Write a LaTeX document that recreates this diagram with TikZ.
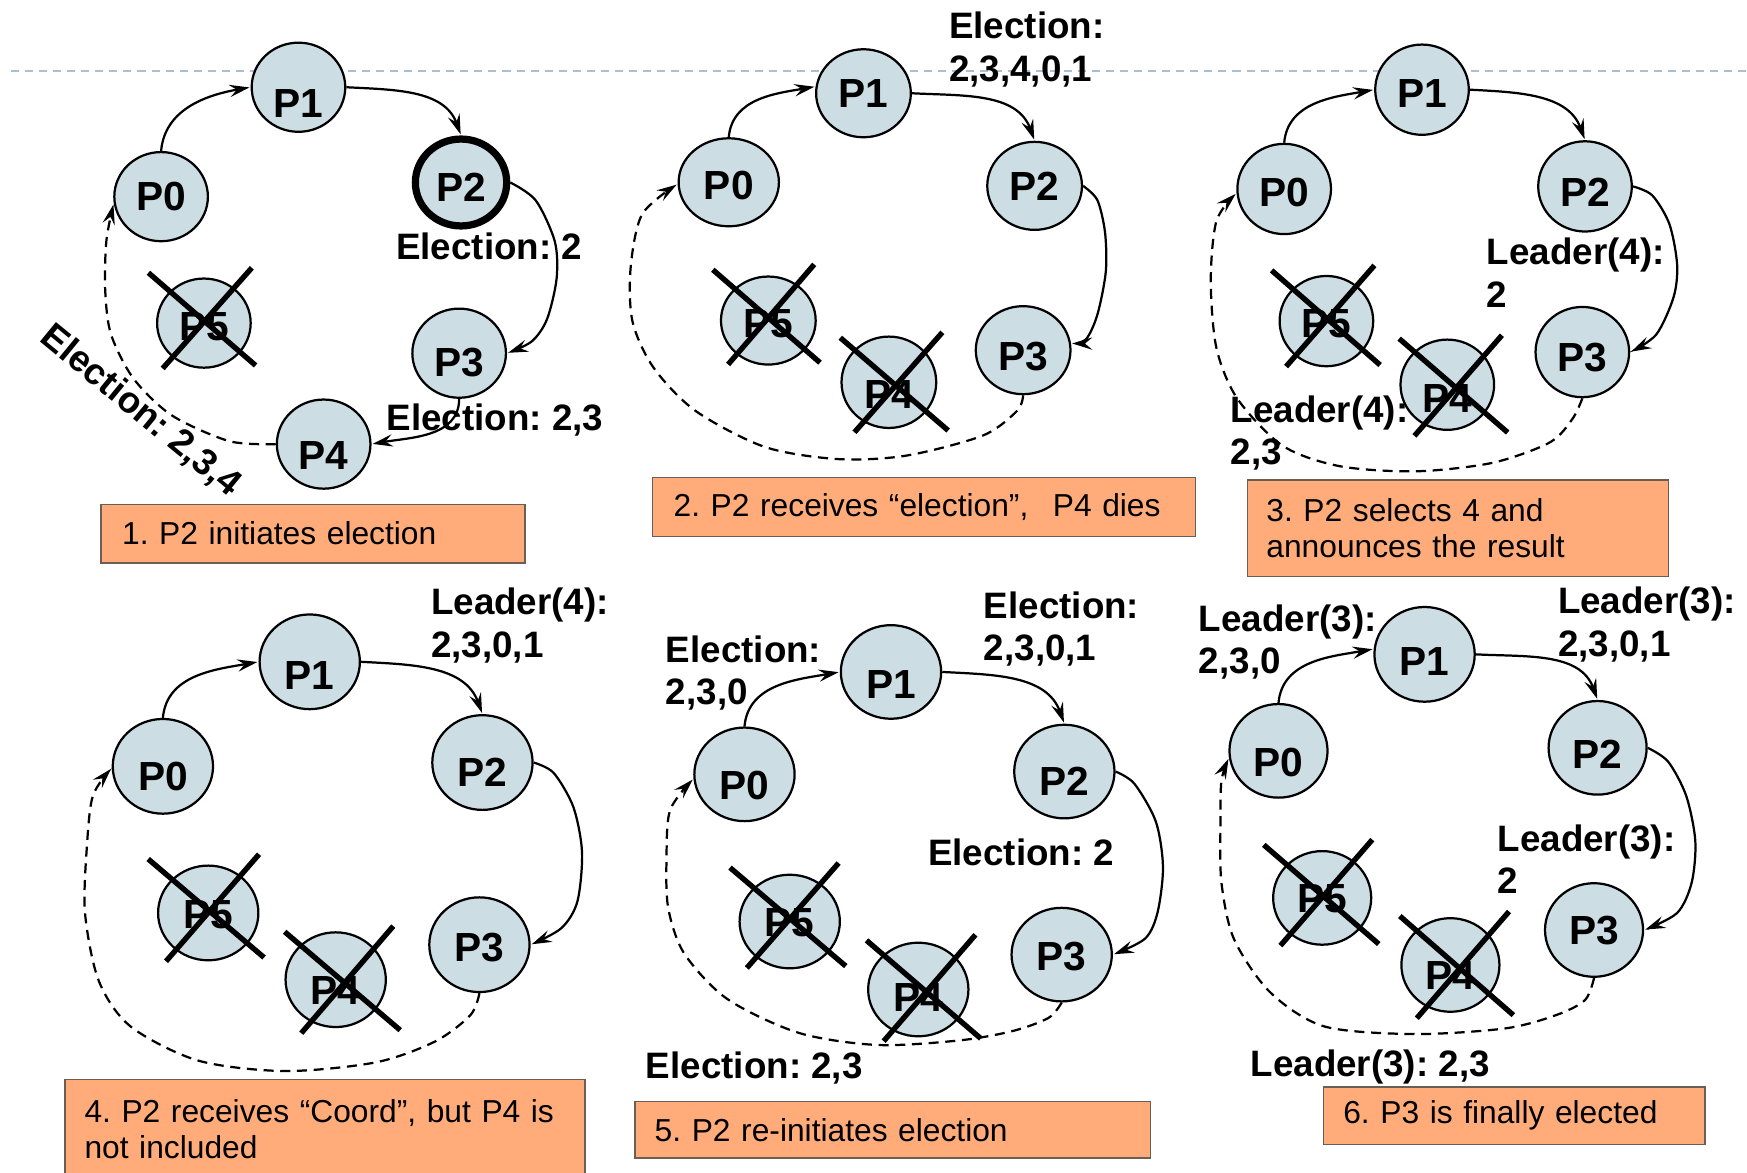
\documentclass[tikz,border=0pt]{standalone}
\usepackage{fontspec}
\setmainfont{Liberation Sans}
\usetikzlibrary{arrows.meta,shapes.geometric}
\definecolor{nodefill}{RGB}{204,222,228}
\definecolor{boxfill}{RGB}{255,172,122}
\definecolor{boxline}{RGB}{105,95,85}
\definecolor{topline}{RGB}{170,192,208}
\newcommand{\lw}[2]{\raisebox{-#1pt}[\height][\depth]{#2}}
\frenchspacing
\begin{document}
\frenchspacing
\begin{tikzpicture}[x=1pt,y=-1pt,
  pnode/.style={ellipse, draw=black, line width=2pt, fill=nodefill, inner sep=0pt,
    font=\bfseries\fontsize{36.5}{38}\selectfont},
  pA/.style={pnode, minimum width=84pt, minimum height=80pt},
  pB/.style={pnode, minimum width=85pt, minimum height=79pt},
  pC/.style={pnode, minimum width=84pt, minimum height=81pt},
  pD/.style={pnode, minimum width=90pt, minimum height=85pt},
  pE/.style={pnode, minimum width=90pt, minimum height=84pt},
  pF/.style={pnode, minimum width=88pt, minimum height=84pt},
  lbl/.style={anchor=base west, inner sep=0pt, font=\bfseries\fontsize{33}{38}\selectfont},
  conn/.style={line width=2pt, -{Stealth[length=18pt,width=11pt,inset=6.5pt]}, shorten >=1pt},
  dconn/.style={conn, dash pattern=on 9pt off 6pt},
  cross/.style={line width=4.8pt},
  topdash/.style={draw=topline, line width=1.8pt, dash pattern=on 7.2pt off 5.4pt},
  box/.style={draw=boxline, line width=1.3pt, fill=boxfill, anchor=north west, align=left,
    font=\fontsize{28.5}{32.5}\selectfont, inner ysep=0pt}
]
\useasboundingbox (0,0) rectangle (1568,1052);
\fill[white] (0,0) rectangle (1568,1052);
\coordinate (tl) at (10,63.5);
\coordinate (tr) at (1568,63.5);
\draw[topdash] (tl) -- (tr);

% ---------- Panel 1 ----------
\node[pA] (A0) at (144.6,176.5) {\lw{0}{P0}};
\node[pA] (A1) at (267.9,78.3) {\lw{15}{P1}};
\node[pA, line width=6.5pt, minimum width=82pt, minimum height=78pt] (A2) at (413.8,163.8) {\lw{4.5}{P2}};
\node[pA] (A3) at (412.1,317) {\lw{8}{P3}};
\node[pA] (A4) at (290.5,398.6) {\lw{10}{P4}};
\node[pA] (A5) at (183,290) {\lw{3}{P5}};
\draw[conn] (A0.north) to[out=85,in=190] (A1.west);
\draw[conn] (A1.east) to[out=-3,in=110] (A2.north);
\draw[conn] plot[smooth] coordinates {(A2.east) (480.8,179.8) (497.9,216.5) (499.6,249.8) (491,286.4) (477.3,306.4) (A3.east)};
\draw[conn] (A3.south) to[out=-90,in=10] (A4.east);
\draw[dconn] plot[smooth] coordinates {(A4.west) (206,396) (154.5,373) (120,340) (99.6,300) (94.4,260) (95.5,216) (A0.188)};
\draw[cross] (133.2,244.8) -- (229.4,328);
\draw[cross] (226,240.4) -- (146,330.7);
\node[lbl] (a1) at (355.4,233.2) {Election: 2};
\node[lbl] (a2) at (346.8,386.4) {Election: 2,3};
\node[lbl, anchor=center, rotate=-39.4] (a3) at (126,369) {Election: 2,3,4};
\node[box, minimum width=380.5pt, minimum height=52.5pt, inner xsep=19pt, text width=342.5pt] (b1) at (90,452) {1. P2 initiates election};

% ---------- Panel 2 ----------
\node[pB, minimum width=90pt] (B0) at (654.1,163.6) {\lw{3}{P0}};
\node[pB] (B1) at (775,83.7) {\lw{0}{P1}};
\node[pB] (B2) at (928.6,166.8) {\lw{0}{P2}};
\node[pB] (B3) at (918.3,314.3) {\lw{5.6}{P3}};
\node[pB, minimum height=82pt] (B4) at (797.8,343.1) {\lw{11}{P4}};
\node[pB] (B5) at (689.6,287.7) {\lw{2.4}{P5}};
\draw[conn] (B0.north) to[out=85,in=190] (B1.172);
\draw[conn] (B1.east) to[out=-3,in=110] (B2.north);
\draw[conn] plot[smooth] coordinates {(B2.east) (984.9,179.6) (991.8,208.5) (992.5,243.7) (985,282.2) (974.6,304.7) (B3.8)};
\draw[dconn] plot[smooth] coordinates {(B3.south) (912.8,368.8) (881.9,391) (813,409) (751.4,412) (686,401) (624.3,368.8) (586.6,330) (567.7,288.6) (566,240.5) (576.3,192.4) (B0.182)};
\draw[cross] (639.8,242.1) -- (736,325.5);
\draw[cross] (730.8,237.3) -- (653.5,327.1);
\draw[cross] (754.2,303.1) -- (851,386.4);
\draw[cross] (845.8,298.3) -- (766.9,388);
\node[lbl] (b2a) at (851.7,34.8) {Election:};
\node[lbl] (b2b) at (851.7,72.8) {2,3,4,0,1};
\node[box, minimum width=487.5pt, minimum height=53pt, inner xsep=19pt, text width=449.5pt] (b2) at (585,428) {2. P2 receives “election”,\hspace{22pt}P4 dies};

% ---------- Panel 3 ----------
\node[pC] (C0) at (1152.6,169.6) {\lw{3}{P0}};
\node[pC] (C1) at (1276.3,80.5) {\lw{3}{P1}};
\node[pC] (C2) at (1422.6,167.3) {\lw{5.3}{P2}};
\node[pC] (C3) at (1420.2,316) {\lw{5}{P3}};
\node[pC] (C4) at (1299,345.3) {\lw{12}{P4}};
\node[pC] (C5) at (1190.5,288.2) {\lw{2.3}{P5}};
\draw[conn] (C0.north) to[out=85,in=190] (C1.west);
\draw[conn] (C1.east) to[out=-3,in=110] (C2.north);
\draw[conn] plot[smooth] coordinates {(C2.east) (1483,175.4) (1498.4,201.3) (1505.3,237.9) (1502,267) (1486.5,300.3) (C3.east)};
\draw[dconn] plot[smooth] coordinates {(C3.south) (1411.3,376) (1390.8,397.2) (1339.5,415.4) (1271.2,423) (1202.9,418.5) (1151.6,400.3) (1110.6,357.9) (1091.8,312.4) (1086.7,251.8) (1091.8,198.3) (C0.185)};
\draw[cross] (1141.3,242.7) -- (1238.7,327.6);
\draw[cross] (1233.6,238.2) -- (1154.3,329);
\draw[cross] (1255.8,303.9) -- (1353.2,388.2);
\draw[cross] (1348,300.9) -- (1269.5,391.2);
\node[lbl] (c1a) at (1334.4,237.8) {Leader(4):};
\node[lbl] (c1b) at (1334.4,275.8) {2};
\node[lbl] (c2a) at (1104.4,378.8) {Leader(4):};
\node[lbl] (c2b) at (1104.4,416.8) {2,3};
\node[box, minimum width=378pt, minimum height=87pt, inner xsep=17pt, text width=344pt] (b3) at (1119,430) {3. P2 selects 4 and\\announces the result};

% ---------- Panel 4 ----------
\node[pD] (D0) at (146.2,687.8) {\lw{9}{P0}};
\node[pD] (D1) at (278,594) {\lw{12}{P1}};
\node[pD] (D2) at (433,684.4) {\lw{8.5}{P2}};
\node[pD] (D3) at (430.3,847.9) {\lw{2.4}{P3}};
\node[pD] (D4) at (301.3,879.3) {\lw{9.7}{P4}};
\node[pD] (D5) at (186.9,819.4) {\lw{1.7}{P5}};
\draw[conn] (D0.north) to[out=85,in=190] (D1.west);
\draw[conn] (D1.east) to[out=-3,in=110] (D2.north);
\draw[conn] plot[smooth] coordinates {(D2.east) (496.9,693.7) (514.6,724.3) (522.4,765) (518.2,809.2) (503.9,833) (D3.east)};
\draw[dconn] plot[smooth] coordinates {(D3.south) (422.3,911) (390.4,934.8) (337.2,953.5) (255.5,961.3) (177.5,951.8) (117.1,921.2) (88.7,880.5) (76.3,819.4) (78.1,758.2) (83.4,714.1) (D0.182)};
\draw[cross] (133,771) -- (237,859.4);
\draw[cross] (232.5,766.7) -- (149,862.8);
\draw[cross] (255.5,836.3) -- (359.2,924.6);
\draw[cross] (353,831.2) -- (270.4,927.3);
\node[lbl] (d1a) at (386.8,551.8) {Leader(4):};
\node[lbl] (d1b) at (386.8,589.8) {2,3,0,1};
\node[box, minimum width=467pt, minimum height=89pt, inner xsep=17.7pt, text width=431.6pt] (b4) at (57.5,968) {4. P2 receives “Coord”, but P4 is\\not included};

% ---------- Panel 5 ----------
\node[pE] (E0) at (668.2,695) {\lw{10}{P0}};
\node[pE] (E1) at (799.7,603.1) {\lw{11.5}{P1}};
\node[pE] (E2) at (955.3,692.5) {\lw{8.5}{P2}};
\node[pE] (E3) at (952.9,856.8) {\lw{1.7}{P3}};
\node[pE] (E4) at (824.2,888.1) {\lw{7.6}{P4}};
\node[pE] (E5) at (708.8,827.1) {\lw{0.8}{P5}};
\draw[conn] (E0.north) to[out=85,in=190] (E1.west);
\draw[conn] (E1.east) to[out=-3,in=110] (E2.north);
\draw[conn] plot[smooth] coordinates {(E2.east) (1018.2,703.5) (1037.4,737.4) (1043.8,778) (1039,818.7) (1027.8,842.4) (E3.east)};
\draw[dconn] plot[smooth] coordinates {(E3.south) (941.2,913.5) (909.2,925.3) (861.1,933.8) (787.3,937.9) (716.8,927) (652.7,896.6) (614.2,855.9) (599.8,815.3) (598.2,771.2) (601.4,727.2) (E0.185)};
\draw[cross] (655.2,778.7) -- (759.1,867.1);
\draw[cross] (752.7,774.6) -- (670.3,868.8);
\draw[cross] (777.7,844) -- (880.3,932.1);
\draw[cross] (875.5,839) -- (793.1,934.5);
\node[lbl] (e1a) at (597.5,594.2) {Election:};
\node[lbl] (e1b) at (597.5,632.2) {2,3,0};
\node[lbl] (e2a) at (882.9,554.8) {Election:};
\node[lbl] (e2b) at (882.9,592.8) {2,3,0,1};
\node[lbl] (e3) at (832.9,777.1) {Election: 2};
\node[lbl] (e4) at (579.6,968.3) {Election: 2,3};
\node[box, minimum width=462.7pt, minimum height=50.8pt, inner xsep=17.7pt, text width=427.3pt] (b5) at (569.3,988) {5. P2 re-initiates election};

% ---------- Panel 6 ----------
\node[pF] (F0) at (1147.5,673.9) {\lw{10.5}{P0}};
\node[pF, minimum width=90pt, minimum height=85pt] (F1) at (1278.6,587.3) {\lw{6.3}{P1}};
\node[pF] (F2) at (1433.9,671.2) {\lw{5.6}{P2}};
\node[pF] (F3) at (1430.7,834.7) {\lw{0.8}{P3}};
\node[pF] (F4) at (1301.8,866.1) {\lw{9.3}{P4}};
\node[pF] (F5) at (1186.7,805.9) {\lw{0.8}{P5}};
\draw[conn] (F0.north) to[out=85,in=190] (F1.174);
\draw[conn] (F1.east) to[out=-3,in=110] (F2.north);
\draw[conn] plot[smooth] coordinates {(F2.east) (1497.2,683.6) (1513.4,714.2) (1521.6,754.9) (1518.3,792.3) (1505.3,819.4) (F3.east)};
\draw[dconn] plot[smooth] coordinates {(F3.south) (1422.6,897.6) (1396.6,911.1) (1351.1,923) (1270,928.1) (1188.8,921.3) (1140.2,890.8) (1107.7,843.2) (1096.3,792.3) (1095.4,738) (1096.3,700.6) (F0.188)};
\draw[cross] (1134.3,758.3) -- (1237.5,847.3);
\draw[cross] (1231.7,753.6) -- (1149.2,848.7);
\draw[cross] (1256.4,822.2) -- (1358.3,911.1);
\draw[cross] (1354.4,818.1) -- (1271.6,913.9);
\node[lbl] (f1a) at (1075.9,566.4) {Leader(3):};
\node[lbl] (f1b) at (1075.9,604.4) {2,3,0};
\node[lbl] (f2a) at (1398.2,550.8) {Leader(3):};
\node[lbl] (f2b) at (1398.2,588.8) {2,3,0,1};
\node[lbl] (f3a) at (1344,764) {Leader(3):};
\node[lbl] (f3b) at (1344,802) {2};
\node[lbl] (f4) at (1122.3,966.4) {Leader(3): 2,3};
\node[box, minimum width=342.5pt, minimum height=51.6pt, inner xsep=17.8pt, text width=306.9pt] (b6) at (1187.2,975) {6. P3 is finally elected};
\end{tikzpicture}
\end{document}
